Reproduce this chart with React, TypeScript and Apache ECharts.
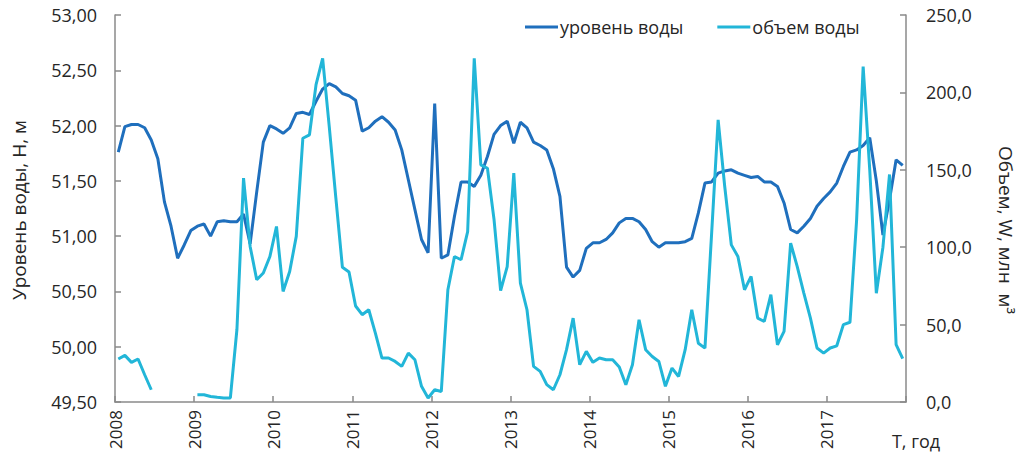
import React, { useEffect, useRef } from "react";
import * as echarts from "echarts";

const years = [2008, 2009, 2010, 2011, 2012, 2013, 2014, 2015, 2016, 2017];
const leftTicks = [49.5, 50, 50.5, 51, 51.5, 52, 52.5, 53];
const rightTicks = [0, 50, 100, 150, 200, 250];

// уровень воды, H, м (monthly, 2008-01 .. 2017-12)
const level2008 = [51.76, 51.99, 52.01, 52.01, 51.98, 51.87, 51.70, 51.31, 51.09, 50.80, 50.92, 51.05];
const level2009 = [51.09, 51.11, 51.00, 51.13, 51.14, 51.13, 51.13, 51.20, 50.93, 51.40, 51.85, 52.00];
const level2010 = [51.97, 51.93, 51.98, 52.11, 52.12, 52.10, 52.22, 52.33, 52.38, 52.35, 52.29, 52.27];
const level2011 = [52.23, 51.95, 51.98, 52.04, 52.08, 52.03, 51.96, 51.78, 51.51, 51.24, 50.97, 50.85];
const level2012 = [52.20, 50.80, 50.83, 51.18, 51.49, 51.49, 51.45, 51.55, 51.72, 51.92, 52.00, 52.04];
const level2013 = [51.84, 52.03, 51.98, 51.85, 51.82, 51.78, 51.61, 51.36, 50.72, 50.63, 50.69, 50.89];
const level2014 = [50.94, 50.94, 50.97, 51.03, 51.12, 51.16, 51.16, 51.13, 51.06, 50.95, 50.90, 50.94];
const level2015 = [50.94, 50.94, 50.95, 50.98, 51.21, 51.48, 51.49, 51.57, 51.59, 51.60, 51.57, 51.55];
const level2016 = [51.53, 51.54, 51.49, 51.49, 51.45, 51.30, 51.06, 51.03, 51.09, 51.16, 51.27, 51.34];
const level2017 = [51.40, 51.48, 51.63, 51.76, 51.78, 51.82, 51.89, 51.50, 51.01, 51.33, 51.69, 51.64];

// объем воды, W, млн м3
const volume2008 = [27.8, 30.1, 25.6, 27.8, 17.6, 7.9, null, null, null, null, null, null];
const volume2009 = [4.7, 4.7, 3.6, 3.0, 2.6, 2.6, 47, 144.6, 100.5, 79, 83.3, 94];
const volume2010 = [113.4, 71.4, 84.3, 107, 170.4, 172.6, 205, 222, 178, 132, 87, 84];
const volume2011 = [62, 56.4, 59.6, 44.5, 28.4, 28.4, 26.2, 23.0, 31.6, 27.3, 10.1, 2.6];
const volume2012 = [7.9, 6.8, 72.5, 94, 91.9, 110.1, 222, 153.2, 151, 118, 72, 87.5];
const volume2013 = [147.8, 76.8, 59.6, 23, 19.8, 11.2, 7.9, 17.6, 33.8, 54.2, 24.1, 32.7];
const volume2014 = [25.6, 28.4, 27.3, 27.3, 22.6, 11.2, 24.1, 53.1, 33.8, 29.4, 26.2, 10.1];
const volume2015 = [21.9, 16.5, 33.8, 59.6, 38, 34.8, 108, 182.2, 139.2, 101.5, 94, 72.5];
const volume2016 = [81.1, 54.2, 52, 69.3, 37, 45.6, 102.6, 87.5, 70.4, 54.2, 34.9, 31.6];
const volume2017 = [34.9, 36.3, 50, 51.5, 117, 216.7, 150, 70.3, 100, 147, 37, 28];

const level = [
  ...level2008, ...level2009, ...level2010, ...level2011, ...level2012,
  ...level2013, ...level2014, ...level2015, ...level2016, ...level2017,
];
const volume = [
  ...volume2008, ...volume2009, ...volume2010, ...volume2011, ...volume2012,
  ...volume2013, ...volume2014, ...volume2015, ...volume2016, ...volume2017,
];

const FONT = "Open Sans";
const TXT = "#262626";
const AX = "#8a8a8a";
const BLUE = "#1f6fbd";
const CYAN = "#22b6d8";

export default function App() {
  const ref = useRef<HTMLDivElement>(null);
  useEffect(() => {
    if (!ref.current) return;
    const chart = echarts.init(ref.current, null, { renderer: "svg" });
    const months = years.length * 12;
    chart.setOption({
      animation: false,
      textStyle: { fontFamily: FONT },
      grid: { left: 115, right: 118, top: 15, bottom: 63 },
      legend: {
        left: 520,
        top: 13,
        icon: "rect",
        itemWidth: 33,
        itemHeight: 3,
        itemGap: 34,
        textStyle: { fontFamily: FONT, fontSize: 18, color: TXT, padding: [0, 0, 0, -3] },
        data: ["уровень воды", "объем воды"],
      },
      xAxis: {
        type: "value",
        min: 0,
        max: months,
        interval: 12,
        axisLine: { show: true, lineStyle: { color: AX, width: 1.5 } },
        axisTick: { show: true, inside: true, length: 6, lineStyle: { color: AX, width: 1.5 } },
        splitLine: { show: false },
        axisLabel: {
          rotate: 90,
          margin: 8,
          fontFamily: FONT,
          fontSize: 17,
          color: TXT,
          formatter: (v: number) => {
            const idx = Math.round(v / 12);
            return idx < years.length ? String(years[idx]) : "";
          },
        },
      },
      yAxis: [
        {
          type: "value",
          min: leftTicks[0],
          max: leftTicks[leftTicks.length - 1],
          interval: 0.5,
          axisLine: { show: true, lineStyle: { color: AX, width: 1.5 } },
          axisTick: { show: true, inside: true, length: 6, lineStyle: { color: AX, width: 1.5 } },
          splitLine: { show: false },
          axisLabel: {
            margin: 18,
            fontFamily: FONT,
            fontSize: 18,
            color: TXT,
            formatter: (v: number) => v.toFixed(2).replace(".", ","),
          },
        },
        {
          type: "value",
          min: rightTicks[0],
          max: rightTicks[rightTicks.length - 1],
          interval: 50,
          position: "right",
          axisLine: { show: true, lineStyle: { color: AX, width: 1.5 } },
          axisTick: { show: true, inside: true, length: 6, lineStyle: { color: AX, width: 1.5 } },
          splitLine: { show: false },
          axisLabel: {
            margin: 20,
            fontFamily: FONT,
            fontSize: 18,
            color: TXT,
            formatter: (v: number) => v.toFixed(1).replace(".", ","),
          },
        },
      ],
      graphic: [
        {
          type: "text",
          x: 19,
          y: 210,
          rotation: Math.PI / 2,
          style: {
            text: "Уровень воды, H, м",
            fontFamily: FONT,
            fontSize: 19,
            fill: TXT,
            align: "center",
            verticalAlign: "middle",
          },
        },
        {
          type: "text",
          x: 1006,
          y: 230,
          rotation: -Math.PI / 2,
          style: {
            text: "Объем, W, млн  м³",
            fontFamily: FONT,
            fontSize: 19,
            fill: TXT,
            align: "center",
            verticalAlign: "middle",
          },
        },
        {
          type: "text",
          x: 916,
          y: 441,
          style: {
            text: "T, год",
            fontFamily: FONT,
            fontSize: 18,
            fill: TXT,
            align: "center",
            verticalAlign: "middle",
          },
        },
      ],
      series: [
        {
          name: "уровень воды",
          type: "line",
          yAxisIndex: 0,
          symbol: "none",
          color: BLUE,
          lineStyle: { width: 3, color: BLUE },
          data: level.map((v, i) => [i + 0.5, v]),
        },
        {
          name: "объем воды",
          type: "line",
          yAxisIndex: 1,
          symbol: "none",
          connectNulls: false,
          color: CYAN,
          lineStyle: { width: 3, color: CYAN },
          data: volume.map((v, i) => [i + 0.5, v]),
        },
      ],
    });
    return () => chart.dispose();
  }, []);
  return (
    <div
      ref={ref}
      style={{ position: "fixed", left: 0, top: 0, width: 1024, height: 465, background: "#fff" }}
    />
  );
}
